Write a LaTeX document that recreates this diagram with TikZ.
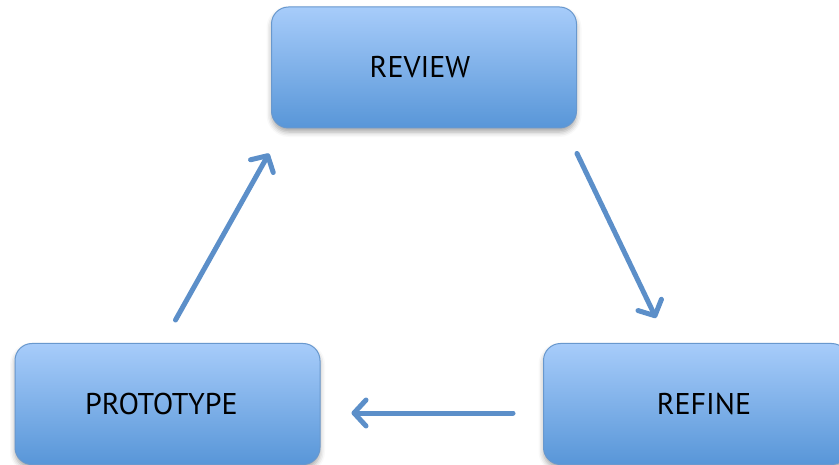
\documentclass[tikz,border=0pt]{standalone}
\usepackage{fontspec}
\setmainfont{PT Sans}
\usetikzlibrary{arrows.meta,shadows.blur,calc}
\definecolor{boxtop}{RGB}{167,204,250}
\definecolor{boxbot}{RGB}{88,150,216}
\definecolor{boxedge}{RGB}{104,152,206}
\definecolor{flow}{RGB}{92,143,201}
\tikzset{
  stage/.style={rounded corners=17pt, draw=boxedge, line width=1pt,
    top color=boxtop, bottom color=boxbot,
    minimum width=305pt, minimum height=121pt, inner sep=0pt,
    font=\fontsize{30}{34}\selectfont, text=black,
    blur shadow={shadow xshift=0pt, shadow yshift=-4pt, shadow blur radius=5pt, shadow opacity=35}},
  flowarrow/.style={draw=flow, line width=5pt, line cap=round,
    -{Straight Barb[length=12pt, width=26pt, line width=5pt, round]}}
}
\begin{document}
\begin{tikzpicture}[x=1pt,y=-1pt]
  \useasboundingbox (0,0) rectangle (839,465);
  \clip (0,0) rectangle (839,465);
  \node[stage] (review) at (424,67.5) {\raisebox{-2pt}{\hspace*{-8pt}REVIEW}};
  \node[stage] (proto) at (167.5,404) {\raisebox{-2pt}{\hspace*{-12pt}PROTOTYPE}};
  \node[stage] (refine) at (696,404) {\raisebox{-2pt}{\hspace*{16pt}REFINE}};

  \coordinate (p1) at ($(proto.north)+(8,-23)$);
  \coordinate (r1) at ($(review.south west)+(-2,25)$);
  \coordinate (r2) at ($(review.south east)+(0,25)$);
  \coordinate (f1) at ($(refine.north)+(-40,-25)$);
  \coordinate (f2) at ($(refine.west)+(-30,9)$);
  \coordinate (p2) at ($(proto.east)+(31,9)$);

  \draw[flowarrow] (p1) -- (r1);
  \draw[flowarrow] (r2) -- (f1);
  \draw[flowarrow] (f2) -- (p2);
\end{tikzpicture}
\end{document}
